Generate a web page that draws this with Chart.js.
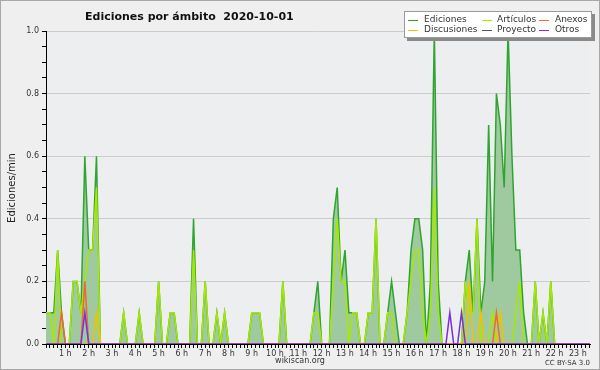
<!DOCTYPE html>
<html>
<head>
<meta charset="utf-8">
<script src="https://cdn.jsdelivr.net/npm/chart.js@4/dist/chart.umd.min.js"></script>
<style>
  html, body { margin: 0; padding: 0; background: #efefef; }
  canvas { display: block; }
</style>
</head>
<body>
<canvas id="myChart" width="600" height="370"></canvas>
<script>
// one value every 10 minutes, edits per minute, from 00:00 to 23:20
var ediciones = [
  0.1, 0.1, 0.1, 0.3, 0.1, 0, 0, 0.2, 0.2, 0.1, 0.6, 0.3,
  0.3, 0.6, 0, 0, 0, 0, 0, 0, 0.1, 0, 0, 0,
  0.1, 0, 0, 0, 0, 0.2, 0, 0, 0.1, 0.1, 0, 0,
  0, 0, 0.4, 0, 0, 0.2, 0, 0, 0.1, 0, 0.1, 0,
  0, 0, 0, 0, 0, 0.1, 0.1, 0.1, 0, 0, 0, 0,
  0, 0.2, 0, 0, 0, 0, 0, 0, 0, 0.1, 0.2, 0,
  0, 0, 0.4, 0.5, 0.2, 0.3, 0.1, 0.1, 0.1, 0, 0, 0.1,
  0.1, 0.4, 0, 0, 0.1, 0.2, 0.1, 0, 0, 0.1, 0.3, 0.4,
  0.4, 0.3, 0, 0.2, 1.0, 0.2, 0, 0, 0, 0, 0, 0,
  0.2, 0.3, 0.1, 0.4, 0.1, 0.2, 0.7, 0.2, 0.8, 0.7, 0.5, 1.0,
  0.6, 0.3, 0.3, 0.1, 0, 0, 0.2, 0, 0.1, 0, 0.2, 0,
  0, 0, 0, 0, 0, 0, 0, 0, 0
];
var articulos = [
  0.1, 0.1, 0, 0.3, 0, 0, 0, 0.2, 0.2, 0.1, 0.2, 0.3,
  0.3, 0.5, 0, 0, 0, 0, 0, 0, 0.1, 0, 0, 0,
  0.1, 0, 0, 0, 0, 0.2, 0, 0, 0.1, 0.1, 0, 0,
  0, 0, 0.3, 0, 0, 0.2, 0, 0, 0.1, 0, 0.1, 0,
  0, 0, 0, 0, 0, 0.1, 0.1, 0.1, 0, 0, 0, 0,
  0, 0.2, 0, 0, 0, 0, 0, 0, 0, 0.1, 0.1, 0,
  0, 0, 0.2, 0.4, 0.2, 0.2, 0, 0.1, 0.1, 0, 0, 0.1,
  0.1, 0.4, 0, 0, 0.1, 0.1, 0, 0, 0, 0.1, 0.2, 0.3,
  0.3, 0.1, 0, 0.1, 0.5, 0.1, 0, 0, 0, 0, 0, 0,
  0.2, 0.1, 0.1, 0.4, 0, 0, 0, 0.1, 0, 0, 0, 0,
  0, 0.1, 0.2, 0, 0, 0, 0.2, 0, 0.1, 0, 0.2, 0,
  0, 0, 0, 0, 0, 0, 0, 0, 0
];
// the small series only have a few non zero slots: [slot, value]
var anexos = [[4, 0.1], [10, 0.2], [116, 0.1]];
var discusiones = [[13, 0.1], [109, 0.2], [112, 0.1], [117, 0.1]];
var otros = [[10, 0.1], [104, 0.1], [107, 0.1]];
var proyecto = []; // no line of its own visible in the picture

var hourLabels = ["1 h", "2 h", "3 h", "4 h", "5 h", "6 h", "7 h", "8 h", "9 h", "10 h", "11 h", "12 h",
  "13 h", "14 h", "15 h", "16 h", "17 h", "18 h", "19 h", "20 h", "21 h", "22 h", "23 h"];
var yLabels = ["0.0", "0.2", "0.4", "0.6", "0.8", "1.0"];

var nSlots = ediciones.length;

function full(arr) {
  return arr.map(function (v, k) { return { x: k / 6, y: v }; });
}
function sparse(pairs) {
  var out = [];
  for (var k = 0; k < nSlots; k++) out.push({ x: k / 6, y: 0 });
  pairs.forEach(function (p) { out[p[0]].y = p[1]; });
  return out;
}

var colors = {
  ediciones: '#2fa52f',
  articulos: '#a6e800',
  anexos: '#f0682a',
  discusiones: '#f2c200',
  proyecto: '#555555',
  otros: '#7b2fe0'
};

var bgPlugin = {
  id: 'bg',
  beforeDraw: function (chart) {
    var ctx = chart.ctx, a = chart.chartArea;
    ctx.save();
    ctx.fillStyle = '#efefef';
    ctx.fillRect(0, 0, chart.width, chart.height);
    ctx.fillStyle = '#edeef0';
    ctx.fillRect(a.left, a.top, a.right - a.left, a.bottom - a.top);
    ctx.restore();
  },
  afterDraw: function (chart) {
    var ctx = chart.ctx;
    ctx.save();
    // frame
    ctx.strokeStyle = '#a8a8a8';
    ctx.lineWidth = 1;
    ctx.strokeRect(0.5, 0.5, chart.width - 1, chart.height - 1);

    // title
    ctx.fillStyle = '#111';
    ctx.font = 'bold 11px "DejaVu Sans"';
    ctx.textBaseline = 'alphabetic';
    ctx.textAlign = 'left';
    ctx.fillText('Ediciones por ámbito  2020-10-01', 85, 20);

    // y title
    ctx.save();
    ctx.translate(12, 188);
    ctx.rotate(-Math.PI / 2);
    ctx.textAlign = 'center';
    ctx.textBaseline = 'middle';
    ctx.font = '10px "DejaVu Sans"';
    ctx.fillStyle = '#222';
    ctx.fillText('Ediciones/min', 0, 0);
    ctx.restore();

    // footer
    ctx.font = '8px "DejaVu Sans"';
    ctx.fillStyle = '#333';
    ctx.textAlign = 'center';
    ctx.textBaseline = 'middle';
    ctx.fillText('wikiscan.org', 300, 361);
    ctx.font = '7px "DejaVu Sans"';
    ctx.textAlign = 'right';
    ctx.fillText('CC BY-SA 3.0', 590, 363);

    // legend box
    var bx = 404, by = 11, bw = 188, bh = 27;
    ctx.fillStyle = '#8a8a8a';
    ctx.fillRect(bx + 3, by + 3, bw, bh);
    ctx.fillStyle = '#ffffff';
    ctx.fillRect(bx, by, bw, bh);
    ctx.strokeStyle = '#9a9a9a';
    ctx.strokeRect(bx + 0.5, by + 0.5, bw - 1, bh - 1);

    var items = [
      ['Ediciones', colors.ediciones, 0, 0],
      ['Artículos', colors.articulos, 1, 0],
      ['Anexos', colors.anexos, 2, 0],
      ['Discusiones', colors.discusiones, 0, 1],
      ['Proyecto', colors.proyecto, 1, 1],
      ['Otros', colors.otros, 2, 1]
    ];
    var swX = [408, 482, 539], txX = [424, 497, 555], rowY = [20, 30];
    ctx.font = '9px "DejaVu Sans"';
    ctx.textAlign = 'left';
    ctx.textBaseline = 'middle';
    items.forEach(function (it) {
      var y = rowY[it[3]];
      ctx.strokeStyle = it[1];
      ctx.lineWidth = 1;
      ctx.beginPath();
      ctx.moveTo(swX[it[2]], y + 0.5);
      ctx.lineTo(swX[it[2]] + 10, y + 0.5);
      ctx.stroke();
      ctx.fillStyle = '#333';
      ctx.fillText(it[0], txX[it[2]], y);
    });
    ctx.restore();
  }
};

Chart.defaults.font.family = '"DejaVu Sans"';

new Chart(document.getElementById("myChart"), {
  type: 'line',
  data: {
    datasets: [
      { label: 'Otros', data: sparse(otros), borderColor: colors.otros, order: 1 },
      { label: 'Anexos', data: sparse(anexos), borderColor: colors.anexos, order: 2 },
      { label: 'Discusiones', data: sparse(discusiones), borderColor: colors.discusiones, order: 3 },
      { label: 'Proyecto', data: sparse(proyecto), borderColor: colors.proyecto, order: 4 },
      { label: 'Artículos', data: full(articulos), borderColor: colors.articulos, order: 5 },
      { label: 'Ediciones', data: full(ediciones), borderColor: colors.ediciones,
        backgroundColor: '#9fca9f', fill: 'origin', order: 10 }
    ]
  },
  options: {
    responsive: false,
    animation: false,
    devicePixelRatio: 1,
    layout: { padding: { top: 31, right: 10, left: 0, bottom: 0 } },
    elements: {
      point: { radius: 0 },
      line: { borderWidth: 1.5, tension: 0, fill: false }
    },
    plugins: {
      legend: { display: false },
      title: { display: false },
      tooltip: { enabled: false }
    },
    scales: {
      x: {
        type: 'linear',
        min: 0,
        max: 23.35,
        z: 1,
        afterBuildTicks: function (axis) {
          var t = [];
          for (var k = 0; k <= 140; k++) t.push({ value: k / 6 });
          axis.ticks = t;
        },
        afterFit: function (s) { s.height = 26; },
        grid: { drawOnChartArea: false, drawTicks: true, tickLength: 4, tickColor: '#000' },
        border: { display: true, color: '#000', width: 1 },
        ticks: {
          autoSkip: false,
          maxRotation: 0,
          padding: 1,
          labelOffset: -4,
          color: '#333',
          font: { size: 8 },
          callback: function (v) {
            var h = Math.round(v);
            if (Math.abs(v - h) < 1e-6 && h > 0) return hourLabels[h - 1];
            return '';
          }
        }
      },
      y: {
        min: 0,
        max: 1,
        afterBuildTicks: function (axis) {
          var t = [];
          for (var i = 0; i <= 20; i++) t.push({ value: i * 0.05 });
          axis.ticks = t;
        },
        afterFit: function (s) { s.width = 46; },
        grid: {
          color: function (c) {
            return (c.index % 4 === 0 && c.index > 0) ? '#cccccc' : 'rgba(0,0,0,0)';
          },
          tickColor: '#000',
          tickLength: 4
        },
        border: { color: '#000' },
        ticks: {
          autoSkip: false,
          padding: 3,
          color: '#333',
          font: { size: 8 },
          callback: function (v, i) { return i % 4 === 0 ? yLabels[i / 4] : ''; }
        }
      }
    }
  },
  plugins: [bgPlugin]
});
</script>
</body>
</html>
